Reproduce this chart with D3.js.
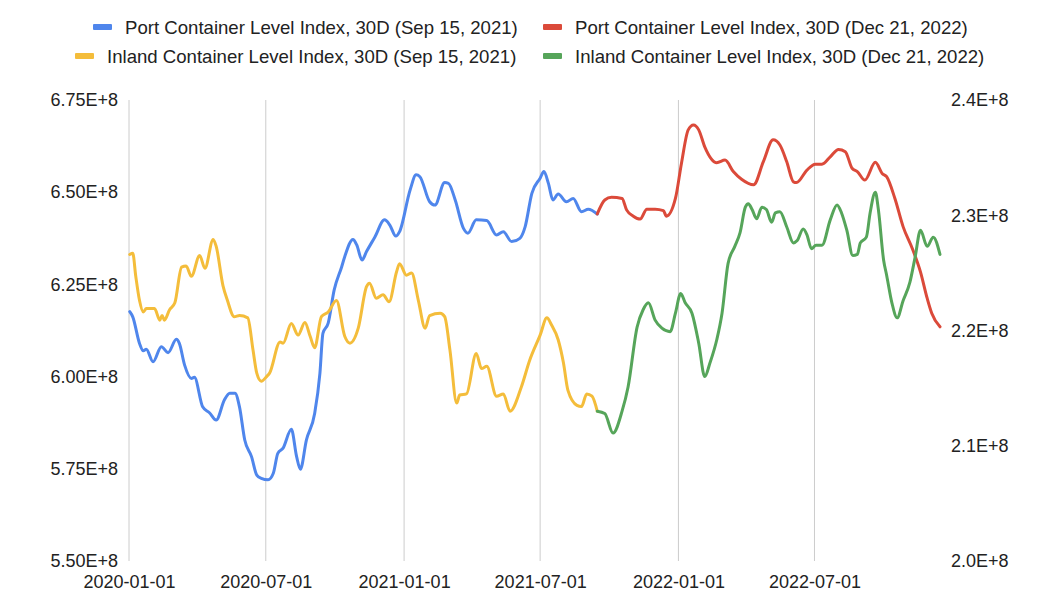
<!DOCTYPE html>
<html>
<head>
<meta charset="utf-8">
<script src="https://cdn.jsdelivr.net/npm/d3@7"></script>
<style>
  body { margin: 0; background: #fff; }
  text { font-family: "Liberation Sans", Arial, sans-serif; fill: #222; }
</style>
</head>
<body>
<svg id="chart"></svg>
<script>
// Series data (values in millions)
var portSepDates = ["2020-01-02","2020-01-06","2020-01-15","2020-01-20","2020-01-24","2020-02-02","2020-02-13","2020-02-22","2020-03-04","2020-03-08","2020-03-15","2020-03-24","2020-03-28","2020-04-08","2020-04-17","2020-04-26","2020-05-07","2020-05-14","2020-05-21","2020-05-27","2020-06-03","2020-06-12","2020-06-19","2020-06-25","2020-07-04","2020-07-11","2020-07-17","2020-07-24","2020-08-04","2020-08-11","2020-08-16","2020-08-24","2020-09-04","2020-09-11","2020-09-15","2020-09-22","2020-09-30","2020-10-10","2020-10-14","2020-10-25","2020-10-30","2020-11-06","2020-11-12","2020-11-23","2020-12-06","2020-12-13","2020-12-21","2020-12-26","2021-01-09","2021-01-17","2021-01-22","2021-02-04","2021-02-11","2021-02-24","2021-03-01","2021-03-10","2021-03-21","2021-03-27","2021-04-07","2021-04-21","2021-05-04","2021-05-13","2021-05-24","2021-06-04","2021-06-11","2021-06-20","2021-07-01","2021-07-06","2021-07-12","2021-07-18","2021-07-25","2021-08-05","2021-08-14","2021-08-25","2021-09-03","2021-09-15"];
var portSepValues = [617.6,616.2,609.0,607.0,607.4,604.0,608.1,606.5,610.1,609.0,603.1,599.5,599.8,591.8,590.2,588.2,593.7,595.5,595.5,591.8,582.8,578.3,573.3,572.4,572.0,573.8,579.2,580.6,585.7,578.3,574.9,582.8,590.0,600.9,611.7,614.5,623.5,629.8,632.5,637.2,635.7,631.6,633.9,637.8,642.5,641.1,638.1,639.3,650.6,654.7,654.2,647.4,646.5,652.6,652.4,647.9,640.2,638.9,642.5,642.3,638.4,639.3,636.6,637.5,640.6,649.7,653.8,655.6,652.4,647.9,649.5,647.4,648.3,644.7,645.4,644.1];

var portDecDates = ["2021-09-15","2021-09-25","2021-10-04","2021-10-18","2021-10-24","2021-11-02","2021-11-11","2021-11-20","2021-12-01","2021-12-12","2021-12-16","2021-12-28","2022-01-05","2022-01-14","2022-01-21","2022-01-28","2022-02-05","2022-02-21","2022-03-04","2022-03-15","2022-03-26","2022-04-11","2022-04-24","2022-05-07","2022-05-16","2022-05-25","2022-06-03","2022-06-07","2022-06-21","2022-07-02","2022-07-11","2022-07-22","2022-08-02","2022-08-11","2022-08-20","2022-08-27","2022-09-06","2022-09-20","2022-09-29","2022-10-05","2022-10-16","2022-10-27","2022-11-08","2022-11-19","2022-11-28","2022-12-04","2022-12-15"];
var portDecValues = [644.1,647.9,648.6,648.3,645.2,643.5,642.7,645.4,645.4,645.0,643.5,648.3,657.8,666.9,668.2,666.9,662.3,658.0,658.7,655.6,653.5,652.0,658.3,664.2,662.8,658.3,652.8,652.6,656.0,657.6,657.6,659.6,661.6,661.0,656.5,655.6,653.3,658.1,655.1,654.2,648.3,640.6,634.8,628.4,621.2,617.2,613.5];

var inlandSepDates = ["2020-01-02","2020-01-06","2020-01-10","2020-01-15","2020-01-20","2020-01-24","2020-02-04","2020-02-11","2020-02-14","2020-02-17","2020-02-24","2020-03-02","2020-03-11","2020-03-17","2020-03-24","2020-04-04","2020-04-11","2020-04-22","2020-04-26","2020-05-05","2020-05-11","2020-05-20","2020-05-27","2020-06-07","2020-06-14","2020-06-19","2020-06-25","2020-07-02","2020-07-06","2020-07-20","2020-07-24","2020-08-04","2020-08-13","2020-08-22","2020-08-29","2020-09-04","2020-09-13","2020-09-22","2020-10-03","2020-10-14","2020-10-21","2020-11-01","2020-11-12","2020-11-16","2020-11-25","2020-12-04","2020-12-12","2020-12-22","2020-12-26","2021-01-04","2021-01-11","2021-01-20","2021-01-29","2021-02-04","2021-02-18","2021-02-24","2021-03-03","2021-03-12","2021-03-16","2021-03-25","2021-04-07","2021-04-14","2021-04-21","2021-05-04","2021-05-13","2021-05-22","2021-06-06","2021-06-17","2021-07-01","2021-07-10","2021-07-16","2021-07-25","2021-08-01","2021-08-07","2021-08-19","2021-08-25","2021-09-01","2021-09-08","2021-09-15"];
var inlandSepValues = [226.6,226.7,224.7,222.6,221.6,221.9,221.9,220.9,221.3,220.9,221.8,222.4,225.5,225.6,224.7,226.5,225.4,227.9,227.3,223.9,222.6,221.2,221.3,221.1,218.3,216.3,215.6,216.0,216.3,219.0,218.9,220.6,219.6,220.7,219.5,218.5,221.2,221.6,222.6,219.5,218.9,220.2,223.8,224.1,222.8,223.1,222.5,225.1,225.8,224.8,225.0,222.6,220.2,221.3,221.5,221.2,218.3,213.7,214.4,214.5,218.0,216.7,216.9,214.3,214.5,213.0,215.1,217.4,219.6,221.1,220.5,219.2,217.2,214.8,213.5,213.4,214.5,214.3,213.0];

var inlandDecDates = ["2021-09-15","2021-09-25","2021-10-06","2021-10-18","2021-10-26","2021-11-07","2021-11-15","2021-11-22","2021-12-01","2021-12-10","2021-12-21","2021-12-28","2022-01-04","2022-01-10","2022-01-19","2022-01-28","2022-02-05","2022-02-12","2022-02-21","2022-02-28","2022-03-08","2022-03-17","2022-03-24","2022-03-31","2022-04-04","2022-04-09","2022-04-15","2022-04-22","2022-04-28","2022-05-05","2022-05-10","2022-05-16","2022-05-25","2022-06-03","2022-06-08","2022-06-16","2022-06-21","2022-06-27","2022-07-03","2022-07-11","2022-07-22","2022-07-31","2022-08-06","2022-08-13","2022-08-21","2022-08-27","2022-08-31","2022-09-08","2022-09-13","2022-09-20","2022-09-24","2022-10-01","2022-10-05","2022-10-12","2022-10-19","2022-10-27","2022-11-05","2022-11-12","2022-11-19","2022-11-28","2022-12-06","2022-12-15"];
var inlandDecValues = [213.0,212.8,211.1,213.0,215.1,220.3,221.8,222.4,220.9,220.2,219.9,221.5,223.2,222.4,221.5,218.9,216.0,217.2,219.2,221.5,225.8,227.3,228.5,230.7,231.0,230.5,229.7,230.7,230.5,229.4,230.2,230.3,229.0,227.6,227.8,228.8,228.3,227.1,227.4,227.4,229.6,230.9,230.2,228.7,226.5,226.6,227.6,228.1,230.2,232.0,230.5,226.1,224.8,222.4,221.1,222.6,224.2,226.4,228.7,227.3,228.1,226.6];

var seriesNames = [
    "Port Container Level Index, 30D (Sep 15, 2021)",
    "Port Container Level Index, 30D (Dec 21, 2022)",
    "Inland Container Level Index, 30D (Sep 15, 2021)",
    "Inland Container Level Index, 30D (Dec 21, 2022)"
];
var xTickLabels = ["2020-01-01","2020-07-01","2021-01-01","2021-07-01","2022-01-01","2022-07-01"];
var leftTicks = [550, 575, 600, 625, 650, 675];
var rightTicks = [200, 210, 220, 230, 240];

var W = 1056, H = 606;
var margin = {left: 129, right: 116, top: 100, bottom: 45};
var svg = d3.select("#chart").attr("width", W).attr("height", H);
var parse = d3.timeParse("%Y-%m-%d");

var x = d3.scaleTime()
    .domain([parse("2020-01-01"), parse(portDecDates[portDecDates.length - 1])])
    .range([margin.left, W - margin.right]);
var yLeft = d3.scaleLinear().domain([550, 675]).range([H - margin.bottom, margin.top]);
var yRight = d3.scaleLinear().domain([200, 240]).range([H - margin.bottom, margin.top]);

// vertical gridlines
svg.append("g").selectAll("line").data(xTickLabels).join("line")
    .attr("x1", function(d) { return x(parse(d)); })
    .attr("x2", function(d) { return x(parse(d)); })
    .attr("y1", margin.top).attr("y2", H - margin.bottom)
    .attr("stroke", "#cccccc").attr("stroke-width", 1);

// axes
var xAxis = d3.axisBottom(x).tickValues(xTickLabels.map(parse))
    .tickFormat(d3.timeFormat("%Y-%m-%d")).tickSize(0).tickPadding(14);
var gx = svg.append("g").attr("transform", "translate(0," + (H - margin.bottom) + ")").call(xAxis);

var gl = svg.append("g").attr("transform", "translate(" + (margin.left - 11) + ",0)")
    .call(d3.axisLeft(yLeft).tickValues(leftTicks).tickSize(0).tickPadding(0)
        .tickFormat(function(d) { return (d * 1e6).toExponential(2).toUpperCase(); }));
var gr = svg.append("g").attr("transform", "translate(" + (W - margin.right + 11) + ",0)")
    .call(d3.axisRight(yRight).tickValues(rightTicks).tickSize(0).tickPadding(0)
        .tickFormat(function(d) { return (d * 1e6).toExponential(1).toUpperCase(); }));

[gx, gl, gr].forEach(function(g) {
    g.select(".domain").remove();
    g.selectAll("text").attr("font-size", 18).attr("font-family", "Liberation Sans, Arial, sans-serif").attr("fill", "#222");
});

// lines
var colors = ["#4f86ec", "#db4a3a", "#f4bd3b", "#56a55a"];
var series = [
    {dates: portSepDates, values: portSepValues, y: yLeft, color: colors[0]},
    {dates: portDecDates, values: portDecValues, y: yLeft, color: colors[1]},
    {dates: inlandSepDates, values: inlandSepValues, y: yRight, color: colors[2]},
    {dates: inlandDecDates, values: inlandDecValues, y: yRight, color: colors[3]}
];
series.forEach(function(s) {
    var pts = s.dates.map(function(d, i) { return [parse(d), s.values[i]]; });
    var line = d3.line()
        .x(function(p) { return x(p[0]); })
        .y(function(p) { return s.y(p[1]); })
        .curve(d3.curveMonotoneX);
    svg.append("path").datum(pts)
        .attr("d", line)
        .attr("fill", "none")
        .attr("stroke", s.color)
        .attr("stroke-width", 3)
        .attr("stroke-linejoin", "round")
        .attr("stroke-linecap", "round");
});

// legend
var legendPos = [[93, 27], [543, 27], [75, 56], [543, 56]];
var legend = svg.append("g");
seriesNames.forEach(function(name, i) {
    var p = legendPos[i];
    legend.append("rect")
        .attr("x", p[0]).attr("y", p[1] - 3)
        .attr("width", 19).attr("height", 6).attr("rx", 1)
        .attr("fill", colors[i]);
    legend.append("text")
        .attr("x", p[0] + 32).attr("y", p[1])
        .attr("dy", "0.35em")
        .attr("font-size", 18.6)
        .text(name);
});
</script>
</body>
</html>
